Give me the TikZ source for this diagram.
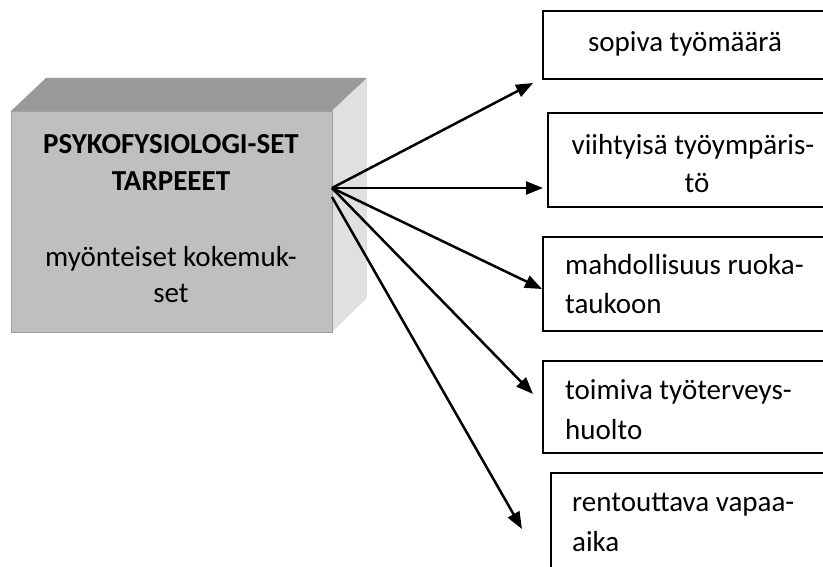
\documentclass[tikz,border=0pt]{standalone}
\usepackage{fontspec}
\setmainfont{Carlito}
\usetikzlibrary{arrows.meta}
\definecolor{cubefront}{gray}{0.75}
\definecolor{cubetop}{gray}{0.60}
\definecolor{cubeside}{gray}{0.88}
\begin{document}
\begin{tikzpicture}[x=1pt,y=-1pt,
  txt/.style={font=\fontsize{29}{36}\selectfont, inner sep=0pt, anchor=base},
  txtl/.style={txt, anchor=base west},
  itembox/.style={draw=black, line width=2pt, fill=white},
  link/.style={line width=2.5pt, -{Triangle[length=17pt,width=13pt]}}]
\useasboundingbox (0,0) rectangle (823,567);
\clip (0,0) rectangle (823,567);

% 3D block
\fill[cubetop] (11,111) -- (46,78) -- (367,78) -- (332,111) -- cycle;
\fill[cubeside] (332,111) -- (367,78) -- (367,298) -- (332,332) -- cycle;
\node[fill=cubefront, draw=gray!50!cubefront, line width=1.2pt, inner sep=0pt,
      minimum width=321pt, minimum height=221pt, anchor=north west] (block) at (11,111) {};
\node[txt, font=\fontsize{29}{36}\selectfont\bfseries] (t1) at (171,154) {PSYKOFYSIOLOGI-SET};
\node[txt, font=\fontsize{29}{36}\selectfont\bfseries] (t2) at (171,191) {TARPEEET};
\node[txt] (t3) at (171,266) {myönteiset kokemuk-};
\node[txt] (t4) at (171,302) {set};
\coordinate (src) at (332,188);
\coordinate (src2) at (332,197);

% target boxes
\draw[itembox] (543,11) rectangle (840,79);
\node[txt] (b1) at (685,52) {sopiva työmäärä};

\draw[itembox] (548,113) rectangle (840,207);
\node[txt] (b2a) at (693,155) {viihtyisä työympäris-};
\node[txt] (b2b) at (697,193) {tö};

\draw[itembox] (543,237) rectangle (840,331);
\node[txtl] (b3a) at (565,274) {mahdollisuus ruoka-};
\node[txtl] (b3b) at (565,313) {taukoon};

\draw[itembox] (543,361) rectangle (840,453);
\node[txtl] (b4a) at (565,399) {toimiva työterveys-};
\node[txtl] (b4b) at (565,439) {huolto};

\draw[itembox] (551,473) rectangle (840,600);
\node[txtl] (b5a) at (572,511) {rentouttava vapaa-};
\node[txtl] (b5b) at (572,551) {aika};

% arrow tips
\coordinate (e1) at (533,83);
\coordinate (e2) at (543,188);
\coordinate (e3) at (542,289);
\coordinate (e4) at (533,394);
\coordinate (e5) at (522,529);

\draw[link] (src) -- (e1);
\draw[link] (src) -- (e2);
\draw[link] (src) -- (e3);
\draw[link] (src) -- (e4);
\draw[link] (src2) -- (e5);
\end{tikzpicture}
\end{document}
